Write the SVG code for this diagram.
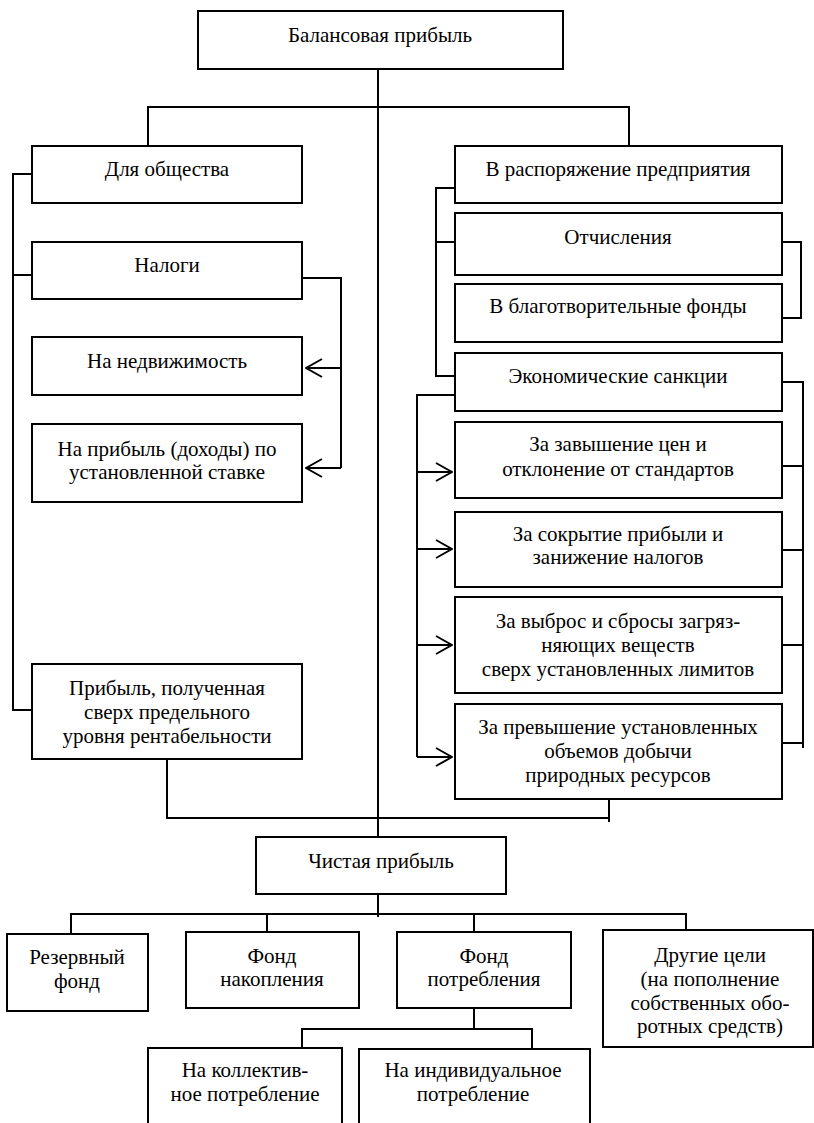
<svg xmlns="http://www.w3.org/2000/svg" width="814" height="1123" viewBox="0 0 814 1123" font-family="'Liberation Serif', 'DejaVu Serif', serif">
<style>
.box{fill:#fff;stroke:#000;stroke-width:2}
.ln{fill:none;stroke:#000;stroke-width:2}
text{font-family:"Liberation Serif","DejaVu Serif",serif;font-size:21px;fill:#000;text-anchor:middle}
</style>
<defs>
<marker id="arr" viewBox="0 0 18 20" markerUnits="userSpaceOnUse" markerWidth="18" markerHeight="20" refX="17" refY="10" orient="auto">
<path d="M1,1 L17,10 L1,19" fill="none" stroke="#000" stroke-width="2"/>
</marker>
</defs>
<rect width="814" height="1123" fill="#fff"/>
<g id="connectors">
<path class="ln" d="M378,69 V837"/>
<path class="ln" d="M148,146 V107 H629 V146"/>
<path class="ln" d="M32,174 H13 V710 H32 M13,275 H32"/>
<path class="ln" d="M302,278 H341 V468"/>
<path class="ln" d="M341,368 H306" marker-end="url(#arr)"/>
<path class="ln" d="M341,468 H306" marker-end="url(#arr)"/>
<path class="ln" d="M455,188 H436 V376 H455 M436,242 H455"/>
<path class="ln" d="M782,242 H801 V318 H782"/>
<path class="ln" d="M455,395 H417 V757"/>
<path class="ln" d="M417,472 H452" marker-end="url(#arr)"/>
<path class="ln" d="M417,549 H452" marker-end="url(#arr)"/>
<path class="ln" d="M417,645 H452" marker-end="url(#arr)"/>
<path class="ln" d="M417,757 H452" marker-end="url(#arr)"/>
<path class="ln" d="M782,382 H803 V748 M782,466 H803 M782,550 H803 M782,645 H803 M782,743 H803"/>
<path class="ln" d="M167,759 V818 H609 V799 M609,818 V822"/>
<path class="ln" d="M378,894 V917 M71,934 V914 H686 V931 M267,914 V932 M474,914 V932"/>
<path class="ln" d="M474,1008 V1029 M302,1048 V1029 H532 V1048"/>
</g>
<g id="n-balance"><rect class="box" x="198" y="11" width="365" height="58"/><text x="380" y="42">Балансовая прибыль</text></g>
<g id="n-society"><rect class="box" x="32" y="146" width="270" height="57"/><text x="167" y="176">Для общества</text></g>
<g id="n-taxes"><rect class="box" x="32" y="242" width="270" height="57"/><text x="167" y="272">Налоги</text></g>
<g id="n-realty"><rect class="box" x="32" y="337" width="270" height="58"/><text x="167" y="368">На недвижимость</text></g>
<g id="n-profit-tax"><rect class="box" x="32" y="424" width="270" height="78"/><text x="167" y="456">На прибыль (доходы) по</text><text x="167" y="479">установленной ставке</text></g>
<g id="n-excess"><rect class="box" x="32" y="664" width="270" height="95"/><text x="167" y="695">Прибыль, полученная</text><text x="167" y="719">сверх предельного</text><text x="167" y="743">уровня рентабельности</text></g>
<g id="n-enterprise"><rect class="box" x="455" y="146" width="327" height="57"/><text x="618" y="176">В распоряжение предприятия</text></g>
<g id="n-deductions"><rect class="box" x="455" y="213" width="327" height="62"/><text x="618" y="244">Отчисления</text></g>
<g id="n-charity"><rect class="box" x="455" y="284" width="327" height="58"/><text x="618" y="313">В благотворительные фонды</text></g>
<g id="n-sanctions"><rect class="box" x="455" y="353" width="327" height="58"/><text x="618" y="383">Экономические санкции</text></g>
<g id="n-prices"><rect class="box" x="455" y="422" width="327" height="76"/><text x="618" y="451">За завышение цен и</text><text x="618" y="476">отклонение от стандартов</text></g>
<g id="n-hiding"><rect class="box" x="455" y="512" width="327" height="75"/><text x="618" y="541">За сокрытие прибыли и</text><text x="618" y="564">занижение налогов</text></g>
<g id="n-emission"><rect class="box" x="455" y="597" width="327" height="96"/><text x="618" y="628">За выброс и сбросы загряз-</text><text x="618" y="652">няющих веществ</text><text x="618" y="676">сверх установленных лимитов</text></g>
<g id="n-mining"><rect class="box" x="455" y="704" width="327" height="95"/><text x="618" y="734">За превышение установленных</text><text x="618" y="758">объемов добычи</text><text x="618" y="782">природных ресурсов</text></g>
<g id="n-net"><rect class="box" x="256" y="837" width="250" height="57"/><text x="381" y="868">Чистая прибыль</text></g>
<g id="n-reserve"><rect class="box" x="7" y="934" width="141" height="77"/><text x="77" y="964">Резервный</text><text x="77" y="988">фонд</text></g>
<g id="n-accum"><rect class="box" x="186" y="932" width="173" height="76"/><text x="272" y="963">Фонд</text><text x="272" y="986">накопления</text></g>
<g id="n-consum"><rect class="box" x="397" y="932" width="174" height="76"/><text x="484" y="963">Фонд</text><text x="484" y="986">потребления</text></g>
<g id="n-other"><rect class="box" x="603" y="930" width="210" height="117"/><text x="710" y="962">Другие цели</text><text x="710" y="986">(на пополнение</text><text x="710" y="1010">собственных обо-</text><text x="710" y="1033">ротных средств)</text></g>
<g id="n-collective"><rect class="box" x="148" y="1048" width="194" height="90"/><text x="245" y="1077">На коллектив-</text><text x="245" y="1101">ное потребление</text></g>
<g id="n-individual"><rect class="box" x="359" y="1049" width="231" height="90"/><text x="473" y="1077">На индивидуальное</text><text x="473" y="1101">потребление</text></g>
</svg>
